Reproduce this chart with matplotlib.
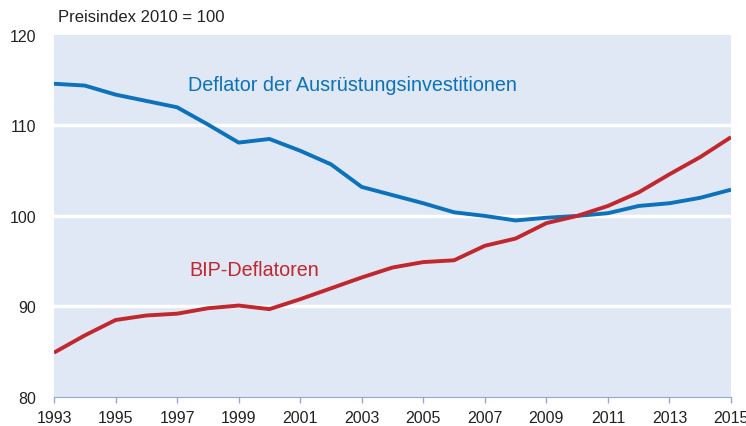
import matplotlib.pyplot as plt

plt.rcParams['font.family'] = ['Liberation Sans', 'DejaVu Sans']

years = list(range(1993, 2016))
ausruestung = [114.6, 114.4, 113.4, 112.7, 112.0, 110.1, 108.1, 108.5, 107.2, 105.7,
               103.2, 102.3, 101.4, 100.4, 100.0, 99.5, 99.8, 100.0, 100.3, 101.1,
               101.4, 102.0, 102.9]
bip = [84.9, 86.8, 88.5, 89.0, 89.2, 89.8, 90.1, 89.7, 90.8, 92.0,
       93.2, 94.3, 94.9, 95.1, 96.7, 97.5, 99.2, 100.0, 101.1, 102.6,
       104.6, 106.5, 108.7]
xticks = list(range(1993, 2016, 2))
yticks = [80, 90, 100, 110, 120]

blue = '#0b72bb'
red = '#c1272d'
tickcol = '#8fa9d8'

fig = plt.figure(figsize=(7.46, 4.27), dpi=100)
ax = fig.add_axes([0.0724, 0.068, 0.9075, 0.848])
ax.set_facecolor('#e0e8f5')

for y in [90, 100, 110]:
    ax.axhline(y, color='white', lw=2.5, zorder=1)

ax.plot(years, ausruestung, color=blue, lw=2.8, zorder=3, solid_capstyle='butt')
ax.plot(years, bip, color=red, lw=2.8, zorder=3, solid_capstyle='butt')

ax.set_xlim(1993, 2015)
ax.set_ylim(80, 120)
ax.set_xticks(xticks)
ax.set_yticks(yticks)
ax.tick_params(axis='x', colors=tickcol, length=4.5, width=1, labelcolor='#222222',
               labelsize=11.5, pad=5)
ax.tick_params(axis='y', length=0, labelcolor='#222222', labelsize=11.5, pad=13)
for s in ['top', 'right', 'left']:
    ax.spines[s].set_visible(False)
ax.spines['bottom'].set_color(tickcol)

ax.text(2002.7, 114.5, 'Deflator der Ausrüstungsinvestitionen', color=blue,
        fontsize=14.2, ha='center', va='center')
ax.text(1999.5, 94.1, 'BIP-Deflatoren', color=red, fontsize=14.2,
        ha='center', va='center')
fig.text(58 / 746, 1 - 18 / 427, 'Preisindex 2010 = 100', fontsize=12,
         ha='left', va='center', color='#222222')

fig.savefig('out.png', dpi=100)
